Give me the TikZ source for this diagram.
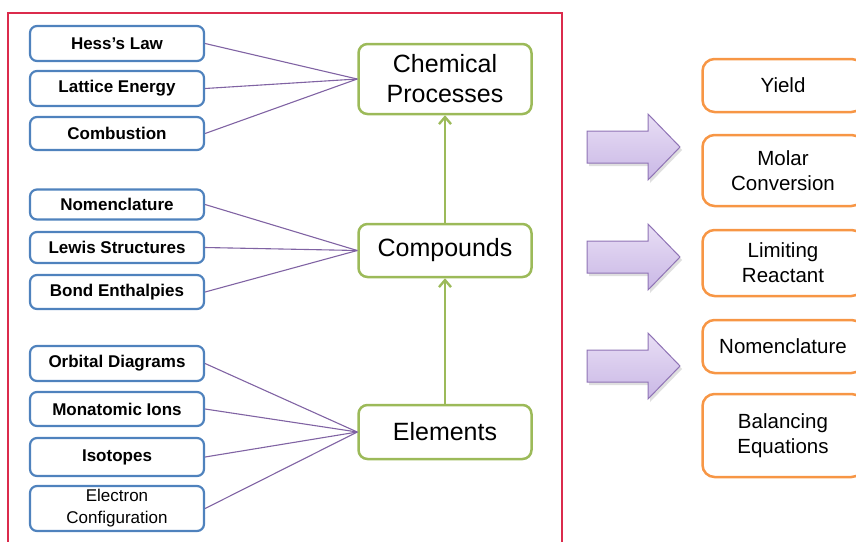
\documentclass[tikz,border=0pt]{standalone}
\usepackage{fontspec}
\setmainfont{Liberation Sans}
\usetikzlibrary{arrows.meta}

\begin{document}
\begin{tikzpicture}[x=1pt,y=-1pt,
	blaubox/.style={draw=blau,line width=2.2pt,rounded corners=7pt,minimum width=174pt,
		inner sep=0pt,align=center,font=\bfseries\fontsize{17}{20}\selectfont},
	gruenbox/.style={draw=gruen,line width=2.5pt,rounded corners=9pt,minimum width=173pt,
		inner sep=0pt,align=center,font=\fontsize{25}{30}\selectfont},
	orangebox/.style={draw=orangeton,line width=2.5pt,rounded corners=12pt,minimum width=161pt,
		inner sep=0pt,align=center,font=\fontsize{20.5}{25}\selectfont},
	linie/.style={color=lila,line width=1.1pt},
	hoch/.style={-{Straight Barb[length=7pt,width=12pt]},color=gruen,line width=2.4pt}]

\definecolor{blau}{rgb}{0.31,0.51,0.74}
\definecolor{gruen}{rgb}{0.61,0.73,0.35}
\definecolor{orangeton}{rgb}{0.97,0.59,0.27}
\definecolor{rahmen}{rgb}{0.86,0.17,0.30}
\definecolor{lila}{rgb}{0.50,0.39,0.64}
\definecolor{lilahell}{rgb}{0.91,0.87,0.96}
\definecolor{lilamittel}{rgb}{0.79,0.72,0.90}
\definecolor{lilarand}{rgb}{0.56,0.45,0.71}

\def\pfeil#1{
	\fill[color=gray!50,opacity=0.5,shift={(2,3)}]
		(587,{#1-16}) -- (648,{#1-16}) -- (648,{#1-33}) -- (680,#1)
		-- (648,{#1+33}) -- (648,{#1+16}) -- (587,{#1+16}) -- cycle;
	\draw[color=lilarand,line width=1pt,top color=lilahell,bottom color=lilamittel]
		(587,{#1-16}) -- (648,{#1-16}) -- (648,{#1-33}) -- (680,#1)
		-- (648,{#1+33}) -- (648,{#1+16}) -- (587,{#1+16}) -- cycle;
}

\useasboundingbox (0,0) rectangle (856,541);
\clip (0,0) rectangle (856,541);

\draw[color=rahmen,line width=1.5pt] (8,13) rectangle (562,560);

\node[blaubox,minimum height=35pt] (hess) at (117,43.5) {Hess’s Law};
\node[blaubox,minimum height=35pt] (lattice) at (117,88.5) {Lattice Energy};
\node[blaubox,minimum height=33pt] (combustion) at (117,133.5) {Combustion};
\node[blaubox,minimum height=30pt] (nomen) at (117,204.5) {Nomenclature};
\node[blaubox,minimum height=31pt] (lewis) at (117,247.5) {Lewis Structures};
\node[blaubox,minimum height=34pt] (bond) at (117,292) {Bond Enthalpies};
\node[blaubox,minimum height=35pt] (orbital) at (117,363.5) {Orbital Diagrams};
\node[blaubox,minimum height=34pt] (monatomic) at (117,409) {Monatomic Ions};
\node[blaubox,minimum height=38pt] (isotopes) at (117,457) {Isotopes};
\node[blaubox,minimum height=45pt,font=\fontsize{17}{22}\selectfont] (electron) at (117,508.5)
	{Electron\\Configuration};

\node[gruenbox,minimum height=70pt] (chem) at (445,79) {Chemical\\Processes};
\node[gruenbox,minimum height=53pt] (comp) at (445,250.5) {Compounds};
\node[gruenbox,minimum height=54pt] (elem) at (445,432) {Elements};

\foreach \a/\b in {hess/chem,lattice/chem,combustion/chem,
	nomen/comp,lewis/comp,bond/comp,
	orbital/elem,monatomic/elem,isotopes/elem,electron/elem}{
	\draw[linie] (\a.east) -- (\b.west);
}

\draw[hoch] (elem.north) -- (comp.south);
\draw[hoch] (comp.north) -- (chem.south);

\foreach \y in {147,257,366}{
	\pfeil{\y}
}

\node[orangebox,minimum height=53pt] (yield) at (783,85.5) {Yield};
\node[orangebox,minimum height=71pt] (molar) at (783,170.5) {Molar\\Conversion};
\node[orangebox,minimum height=66pt] (limiting) at (783,263) {Limiting\\Reactant};
\node[orangebox,minimum height=53pt] (nomenzwei) at (783,346.5) {Nomenclature};
\node[orangebox,minimum height=83pt] (balancing) at (783,435.5) {Balancing\\Equations};

\end{tikzpicture}
\end{document}
